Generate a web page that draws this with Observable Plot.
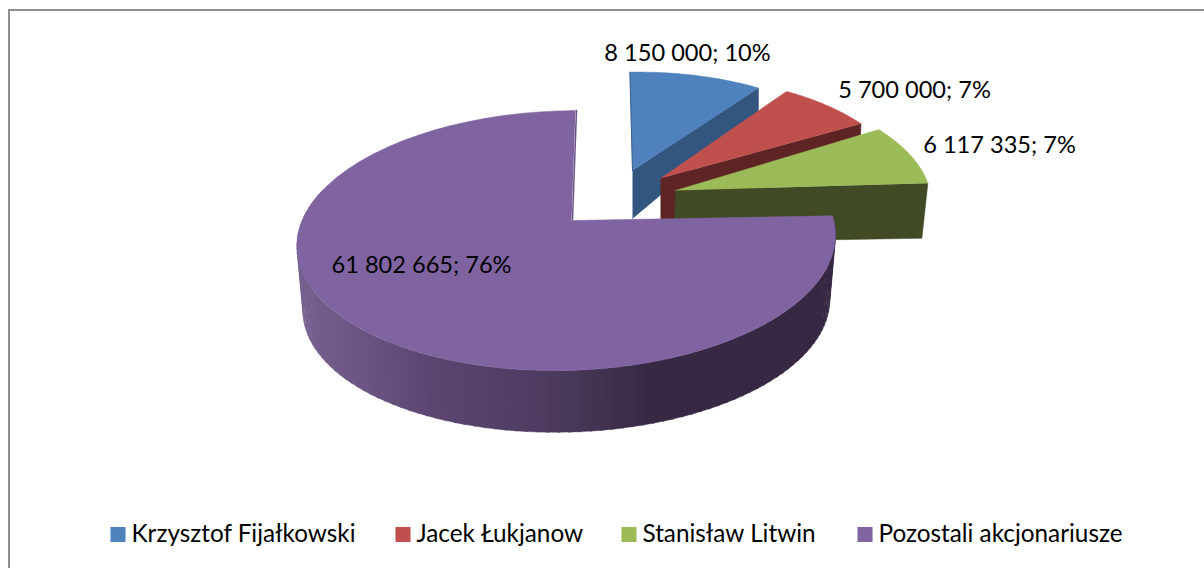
<!DOCTYPE html>
<html><head><meta charset="utf-8">
<script src="https://cdn.jsdelivr.net/npm/d3@7"></script>
<script src="https://cdn.jsdelivr.net/npm/@observablehq/plot@0.6"></script>
<style>html,body{margin:0;padding:0;background:#fff}svg{display:block}</style>
</head><body><div id="chart"></div>
<script>
const names = ["Krzysztof Fijałkowski","Jacek Łukjanow","Stanisław Litwin","Pozostali akcjonariusze"];
const shares = [8150000,5700000,6117335,61802665];
const percents = [10,7,7,76];
const topColors = ["#4f81bd","#c0504d","#9bbb59","#8064a2"];
const sideColors = ["#335680","#5d2423","#404a24","#362842"];

const total = d3.sum(shares);
// projection of the tilted pie (unit-circle plane -> page)
const P = {A:266,B:126.9,s:-4.6,t:-3,p:0.154,q:-0.0167};
function proj(deg,c,k=1){
  const a=deg*Math.PI/180,u=Math.sin(a),v=-Math.cos(a),w=1-P.p*v-P.q*u;
  return {x:c[0]+k*(P.A*u+P.s*v)/w,y:c[1]+k*(P.B*v+P.t*u)/w};
}
// explosion layout per slice (centre, scale, small perspective angle corrections, extrusion)
const layout=[
 {c:[632,170],k:0.895,da0:-1.7,da1:0,dA:[0,48],dO:[0,25]},
 {c:[660,178],k:0.93,da0:-1.5,da1:0,dA:[0,48],dO:[-1,30]},
 {c:[675,190],k:0.97,da0:-2.4,da1:0,dA:[-2,52],dO:[-6,55]},
 {c:[571,220],k:1,da0:1.3,da1:0,dA:[0,0],dO:[0,0]}
];
let acc=0;
const slices=shares.map((v,i)=>{
  const l=layout[i],a=acc/total*360;acc+=v;
  return {i,...l,a0:a+l.da0,a1:acc/total*360+l.da1};
});
const arc=(s,a0=s.a0,a1=s.a1,c=s.c,k=s.k)=>d3.range(0,61).map(j=>proj(a0+(a1-a0)*j/60,c,k));

const marks=[];
// chart border: only the top and left edges fall inside the picture
marks.push(Plot.ruleX([8.5],{stroke:"#8f8f8f",strokeWidth:2,y1:9.5,y2:568}));
marks.push(Plot.ruleY([9.5],{stroke:"#8f8f8f",strokeWidth:2,x1:8,x2:1204}));

// side faces of exploded slices, then tops, back to front
slices.slice(0,3).forEach(s=>{
  const o=proj(s.a1,s.c,s.k);
  const face=[{x:s.c[0],y:s.c[1]},o,{x:o.x+s.dO[0],y:o.y+s.dO[1]},{x:s.c[0]+s.dA[0],y:s.c[1]+s.dA[1]}];
  marks.push(Plot.line(face,{x:"x",y:"y",fill:sideColors[s.i],stroke:sideColors[s.i],strokeWidth:0.5}));
  const top=[{x:s.c[0],y:s.c[1]},...arc(s)];
  marks.push(Plot.line(top,{x:"x",y:"y",fill:topColors[s.i],stroke:topColors[s.i],strokeWidth:0.5}));
});
// blue left edge
{const s=slices[0],o=proj(s.a0,s.c,s.k);
 marks.push(Plot.line([{x:s.c[0],y:s.c[1]},o],{x:"x",y:"y",stroke:"#3a5f8c",strokeWidth:1}));}

// purple rim with shading along x
const pu=slices[3];
const shade=d3.scaleLinear([300,430,555,650,830],["#77608f","#5c4670","#4b3a5e","#372943","#362842"]).clamp(true);
const bc=[571,285],bk=0.978,segs=[];
for(let d=pu.a0;d<285;d+=2){
  const a=proj(d,pu.c),b=proj(d+2.4,pu.c),e=proj(d+2.4,bc,bk),f=proj(d,bc,bk);
  const col=shade((a.x+b.x)/2);
  [a,b,e,f].forEach(p=>segs.push({x:p.x,y:p.y,z:d,col}));
}
marks.push(Plot.line(segs,{x:"x",y:"y",z:"z",fill:"col",stroke:"col",strokeWidth:0.4}));
marks.push(Plot.line([{x:pu.c[0],y:pu.c[1]},...arc(pu)],{x:"x",y:"y",fill:topColors[3],stroke:topColors[3],strokeWidth:0.5}));
{const o=proj(pu.a1,pu.c);
 marks.push(Plot.line([{x:pu.c[0]+1,y:pu.c[1]-1},{x:o.x+1,y:o.y}],{x:"x",y:"y",stroke:"#6a5189",strokeWidth:1.5}));}

// data labels
const fmt=v=>String(v).replace(/\B(?=(\d{3})+$)/g," ");
const labelAt=[[687,53],[914,90],[999,145],[421,265]];
const labels=shares.map((v,i)=>({x:labelAt[i][0],y:labelAt[i][1],t:`${fmt(v)}; ${percents[i]}%`}));
marks.push(Plot.text(labels,{x:"x",y:"y",text:"t",fontSize:23.6,fill:"#000",textAnchor:"middle"}));

// legend
const swX=[117.5,402.5,628.5,864.5];
const lg=names.map((n,i)=>({x:swX[i],n,c:topColors[i]}));
marks.push(Plot.dot(lg,{x:"x",y:()=>534,symbol:"square",r:8.5,fill:"c"}));
marks.push(Plot.text(lg,{x:d=>d.x+13.5,y:()=>534,text:"n",fontSize:24.3,fill:"#000",textAnchor:"start"}));

const plot=Plot.plot({width:1204,height:568,margin:0,
  style:{fontFamily:"Lato, sans-serif",background:"#fff"},
  x:{domain:[0,1204],range:[0,1204],axis:null},
  y:{domain:[0,568],range:[0,568],axis:null},
  color:{type:"identity"},
  marks});
document.getElementById("chart").append(plot);
</script></body></html>
